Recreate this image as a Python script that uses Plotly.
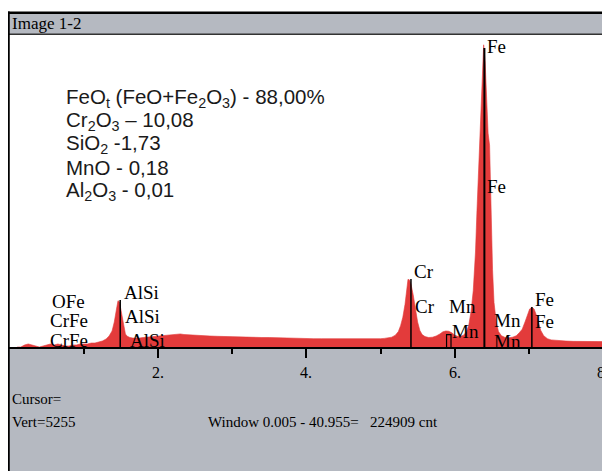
import plotly.graph_objects as go

# ---------------- data ----------------
energy_keV = [0.10, 0.15, 0.20, 0.25, 0.30, 0.35, 0.40, 0.45, 0.50, 0.55, 0.60, 0.65, 0.70, 0.75,
              0.80, 0.85, 0.90, 0.95, 1.00, 1.05, 1.10, 1.15, 1.20, 1.25, 1.30, 1.34, 1.38, 1.41,
              1.44, 1.46, 1.48, 1.50, 1.52, 1.54, 1.56, 1.58, 1.62, 1.66, 1.70, 1.75, 1.80, 1.85,
              1.90, 1.95, 2.00, 2.05, 2.10, 2.15, 2.20, 2.25, 2.30, 2.35, 2.40, 2.45, 2.50, 2.55,
              2.60, 2.70, 2.80, 2.90, 3.00, 3.10, 3.20, 3.30, 3.40, 3.50, 3.60, 3.70, 3.80, 3.90,
              4.00, 4.10, 4.20, 4.30, 4.40, 4.50, 4.60, 4.70, 4.80, 4.90, 5.00, 5.05, 5.10, 5.15,
              5.20, 5.24, 5.27, 5.30, 5.33, 5.35, 5.37, 5.39, 5.41, 5.44, 5.47, 5.50, 5.53, 5.56,
              5.60, 5.65, 5.70, 5.75, 5.80, 5.84, 5.88, 5.92, 5.96, 6.00, 6.04, 6.08, 6.12, 6.16,
              6.19, 6.22, 6.25, 6.28, 6.30, 6.32, 6.34, 6.36, 6.38, 6.39, 6.41, 6.43, 6.45, 6.47,
              6.49, 6.51, 6.53, 6.56, 6.59, 6.63, 6.68, 6.73, 6.78, 6.83, 6.87, 6.91, 6.95, 6.98,
              7.01, 7.04, 7.07, 7.10, 7.13, 7.16, 7.20, 7.25, 7.30, 7.40, 7.50, 7.60, 7.70, 7.80,
              7.90, 8.00, 8.10]
counts = [0, 0, 34, 51, 34, 17, 0, 17, 34, 51, 34, 51, 34, 17,
          17, 34, 34, 51, 51, 51, 67, 67, 84, 101, 135, 185, 270, 420,
          640, 780, 760, 620, 440, 300, 220, 185, 160, 150, 145, 150, 160, 165,
          170, 175, 180, 185, 190, 200, 205, 215, 220, 210, 205, 200, 200, 195,
          190, 185, 180, 175, 175, 170, 170, 165, 160, 160, 155, 150, 150, 145,
          145, 140, 140, 140, 135, 135, 130, 130, 130, 135, 140, 145, 150, 165,
          200, 260, 360, 500, 720, 950, 1140, 1130, 1060, 880, 620, 420, 280, 210,
          175, 160, 165, 185, 220, 255, 270, 265, 240, 200, 180, 180, 200, 260,
          370, 600, 950, 1600, 2300, 2900, 3600, 4300, 4900, 5090, 4800, 4100, 3600, 3400,
          2300, 1300, 750, 420, 260, 190, 160, 155, 165, 190, 240, 300, 430, 550,
          640, 670, 640, 540, 400, 280, 190, 140, 120, 105, 100, 95, 95, 90,
          90, 90, 90]

# element marker lines (energy, height in counts)
line_energy = [1.49, 5.41, 6.40, 7.04]
line_height = [790, 1145, 5035, 674]
# Mn Ka / Cr Kb pair drawn as a bracket
pair_energy = [5.89, 5.95]
pair_height = 210

peak_labels = ["OFe", "CrFe", "CrFe", "AlSi", "AlSi", "AlSi", "Cr", "Cr",
               "Mn", "Mn", "Mn", "Mn", "Fe", "Fe", "Fe", "Fe"]

oxide_lines = ["FeO<sub>t</sub> (FeO+Fe<sub>2</sub>O<sub>3</sub>) - 88,00%",
               "Cr<sub>2</sub>O<sub>3</sub> \u2013 10,08",
               "SiO<sub>2</sub> -1,73",
               "MnO - 0,18",
               "Al<sub>2</sub>O<sub>3</sub> - 0,01"]

tick_vals = [2, 4, 6, 8]
tick_text = ["2.", "4.", "6.", "8."]
minor_vals = [1, 3, 5, 7]

title_text = "Image 1-2"
cursor_text = "Cursor="
vert_text = "Vert=5255"
window_text = "Window 0.005 - 40.955=&nbsp;&nbsp; 224909 cnt"
y_full_scale = 5255

# ---------------- layout helpers ----------------
OFF = 8                          # page body margin: figure starts at window pixel (8, 8)
W, H = 610 - OFF, 471 - OFF      # figure size
X0, KEV_PX = 9.7, 74.17          # window pixel of 0 keV, pixels per keV
Y_TOP, Y_BASE = 35, 347          # plot area in window pixels


def px(x):
    return (x - OFF) / W


def py(y):
    return 1 - (y - OFF) / H


GRAY = "#b5b9c1"
RED = "#e33b3b"
SERIF = "Liberation Serif, Times New Roman, serif"
SANS = "Liberation Sans, Arial, sans-serif"

fig = go.Figure()

fig.add_trace(go.Scatter(x=energy_keV, y=counts, mode="lines", fill="tozeroy",
                         line=dict(color=RED, width=0.6), fillcolor=RED,
                         hoverinfo="skip", showlegend=False))

for e, h in zip(line_energy, line_height):
    fig.add_trace(go.Scatter(x=[e, e], y=[0, h], mode="lines",
                             line=dict(color="black", width=2 if h > 3000 else 1.5),
                             hoverinfo="skip", showlegend=False))
fig.add_trace(go.Scatter(x=[pair_energy[0], pair_energy[0], pair_energy[1], pair_energy[1]],
                         y=[0, pair_height, pair_height, 0], mode="lines",
                         line=dict(color="black", width=1.2),
                         hoverinfo="skip", showlegend=False))

shapes = [
    # title bar
    dict(type="rect", xref="paper", yref="paper", x0=px(8), x1=px(615), y0=py(34), y1=py(13),
         fillcolor=GRAY, line=dict(width=0), layer="below"),
    dict(type="line", xref="paper", yref="paper", x0=px(8), x1=px(615), y0=py(12.8), y1=py(12.8),
         line=dict(color="black", width=2.5)),
    dict(type="line", xref="paper", yref="paper", x0=px(8), x1=px(615), y0=py(34.2), y1=py(34.2),
         line=dict(color="#333333", width=1.5)),
    # bottom panel
    dict(type="rect", xref="paper", yref="paper", x0=px(8), x1=px(615), y0=py(476), y1=py(Y_BASE),
         fillcolor=GRAY, line=dict(width=0), layer="below"),
    # left border
    dict(type="line", xref="paper", yref="paper", x0=px(8.5), x1=px(8.5), y0=py(11.5), y1=py(476),
         line=dict(color="black", width=2.5)),
]

label_pos = [(50, 301), (48, 320), (48, 340), (122, 292), (123, 316), (128, 340),
             (412, 271), (413, 306), (447, 306), (450, 331), (492, 320), (492, 341),
             (533, 299), (533, 321), (485, 47), (485, 186)]
ann = []
for t, (lx, ly) in zip(peak_labels, label_pos):
    ann.append(dict(text=t, xref="paper", yref="paper", x=px(lx), y=py(ly),
                    xanchor="left", yanchor="middle", showarrow=False,
                    font=dict(family=SERIF, size=19, color="black")))

for i, t in enumerate(oxide_lines):
    ann.append(dict(text=t, xref="paper", yref="paper", x=px(64), y=py(98 + 23.2 * i),
                    xanchor="left", yanchor="middle", showarrow=False,
                    font=dict(family=SANS, size=20.5, color="#1a1a1a")))

# tick labels, placed under the ticks on the energy axis
for v, t in zip(tick_vals, tick_text):
    ann.append(dict(text=t, xref="x", yref="paper", x=v, y=py(372),
                    xanchor="center", yanchor="middle", showarrow=False,
                    font=dict(family=SERIF, size=16, color="black")))

ann.append(dict(text=title_text, xref="paper", yref="paper", x=px(10), y=py(24),
                xanchor="left", yanchor="middle", showarrow=False,
                font=dict(family=SERIF, size=17, color="black")))
ann.append(dict(text=cursor_text, xref="paper", yref="paper", x=px(9.5), y=py(399),
                xanchor="left", yanchor="middle", showarrow=False,
                font=dict(family=SERIF, size=15, color="black")))
ann.append(dict(text=vert_text, xref="paper", yref="paper", x=px(9.5), y=py(422),
                xanchor="left", yanchor="middle", showarrow=False,
                font=dict(family=SERIF, size=15, color="black")))
ann.append(dict(text=window_text, xref="paper", yref="paper", x=px(206), y=py(422),
                xanchor="left", yanchor="middle", showarrow=False,
                font=dict(family=SERIF, size=15, color="black")))

fig.update_layout(
    width=W, height=H,
    margin=dict(l=0, r=0, t=0, b=0),
    paper_bgcolor="white", plot_bgcolor="white",
    showlegend=False,
    shapes=shapes, annotations=ann,
    xaxis=dict(domain=[0, 1], range=[(OFF - X0) / KEV_PX, (610 - X0) / KEV_PX],
               showgrid=False, zeroline=False, showline=True, linecolor="black", linewidth=2,
               ticks="outside", ticklen=9, tickwidth=1.5, tickcolor="black",
               tickvals=tick_vals, showticklabels=False,
               minor=dict(tickvals=minor_vals, ticks="outside", ticklen=5, tickwidth=1.5,
                          tickcolor="black", showgrid=False),
               fixedrange=True),
    yaxis=dict(domain=[py(Y_BASE), py(Y_TOP)], range=[0, y_full_scale],
               visible=False, fixedrange=True),
)

fig.write_html("out.html")
